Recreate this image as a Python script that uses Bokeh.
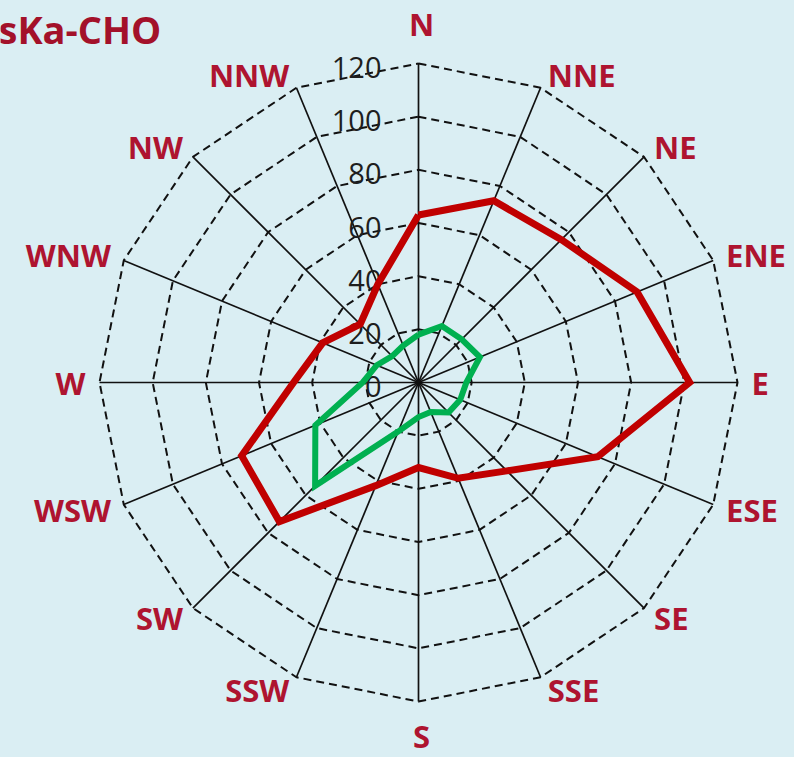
import numpy as np
from bokeh.plotting import figure
from bokeh.models import ColumnDataSource
from bokeh.core.properties import value
from bokeh.embed import file_html
from bokeh.resources import INLINE

# ---------------- data ----------------
directions = ["N", "NNE", "NE", "ENE", "E", "ESE", "SE", "SSE",
              "S", "SSW", "SW", "WSW", "W", "WNW", "NW", "NNW"]
series_red = [63, 74, 76, 89, 102, 73, 47, 39, 32, 42, 74, 72, 47, 39, 31, 40]
series_green = [18, 23, 23, 25, 18, 17, 16, 12, 13, 20, 55, 42, 21, 17, 14, 15]
ring_ticks = [0, 20, 40, 60, 80, 100, 120]
title_text = "sKa-CHO"

# ---------------- layout ----------------
BG = "#DAEEF3"
W, H = 794, 757
CX, CY = 418, 382            # canvas pixel of chart centre
RMAX = max(ring_ticks)
S = 319.0 / RMAX             # pixels per data unit

p = figure(width=W, height=H, output_backend="svg", toolbar_location=None,
           x_range=(-CX / S, (W - CX) / S), y_range=((CY - H) / S, CY / S),
           x_axis_type=None, y_axis_type=None, title=None,
           min_border=0, min_border_left=0, min_border_right=0,
           min_border_top=0, min_border_bottom=0,
           background_fill_color=BG, border_fill_color=BG,
           outline_line_color=None)
p.grid.visible = False

n = len(directions)
theta = np.arange(n) * 2 * np.pi / n
sn, cs = np.sin(theta), np.cos(theta)

# rings (dashed polygons)
ring_xs, ring_ys = [], []
for r in ring_ticks[1:]:
    ring_xs.append(list(np.append(r * sn, r * sn[0])))
    ring_ys.append(list(np.append(r * cs, r * cs[0])))
p.multi_line(ring_xs, ring_ys, line_color="#111111", line_width=2, line_dash="8 5")

# spokes
p.segment(x0=np.zeros(n), y0=np.zeros(n), x1=RMAX * sn, y1=RMAX * cs,
          line_color="#111111", line_width=1.7)

# radial tick labels
tick_src = ColumnDataSource(dict(
    x=[-37 / S] * len(ring_ticks),
    y=[t - 4 / S for t in ring_ticks],
    text=[str(t) for t in ring_ticks]))
p.text(x="x", y="y", text="text", source=tick_src, text_align="right",
       text_baseline="middle", text_font=value("Open Sans"),
       text_font_size="29px", text_color="#1E1E1E")

# direction labels
lx, ly, la = [], [], []
for i in range(n):
    x0, y0 = RMAX * sn[i], RMAX * cs[i]
    if abs(sn[i]) < 0.1:
        la.append("center")
        lx.append(x0 + 3 / S)
        ly.append(y0 + (40 if cs[i] > 0 else -34) / S)
    else:
        gap = 14 - 8 * cs[i] ** 2
        la.append("left" if sn[i] > 0 else "right")
        lx.append(x0 + np.sign(sn[i]) * gap / S)
        ly.append(y0 + cs[i] * 14 / S)
dir_src = ColumnDataSource(dict(x=lx, y=ly, text=directions, align=la))
p.text(x="x", y="y", text="text", source=dir_src, text_align="align",
       text_baseline="middle", text_font=value("Open Sans"),
       text_font_style="bold", text_font_size="31px", text_color="#AE1430")

# series
def closed(vals):
    v = np.asarray(vals, dtype=float)
    xs = np.append(v * sn, v[0] * sn[0])
    ys = np.append(v * cs, v[0] * cs[0])
    return xs, ys

gx, gy = closed(series_green)
p.line(gx, gy, line_color="#00B050", line_width=6, line_join="miter")
rx, ry = closed(series_red)
p.line(rx, ry, line_color="#C00000", line_width=7, line_join="miter")

# title at top-left corner
p.text(x=[(-2 - CX) / S], y=[(CY - 2) / S], text=[title_text],
       text_align="left", text_baseline="top",
       text_font=value("Open Sans"), text_font_style="bold",
       text_font_size="38px", text_color="#A3112A")

html = file_html(p, INLINE)
html = html.replace("</head>", "<style>html,body{background:%s;}</style></head>" % BG, 1)
open("out.html", "w").write(html)
